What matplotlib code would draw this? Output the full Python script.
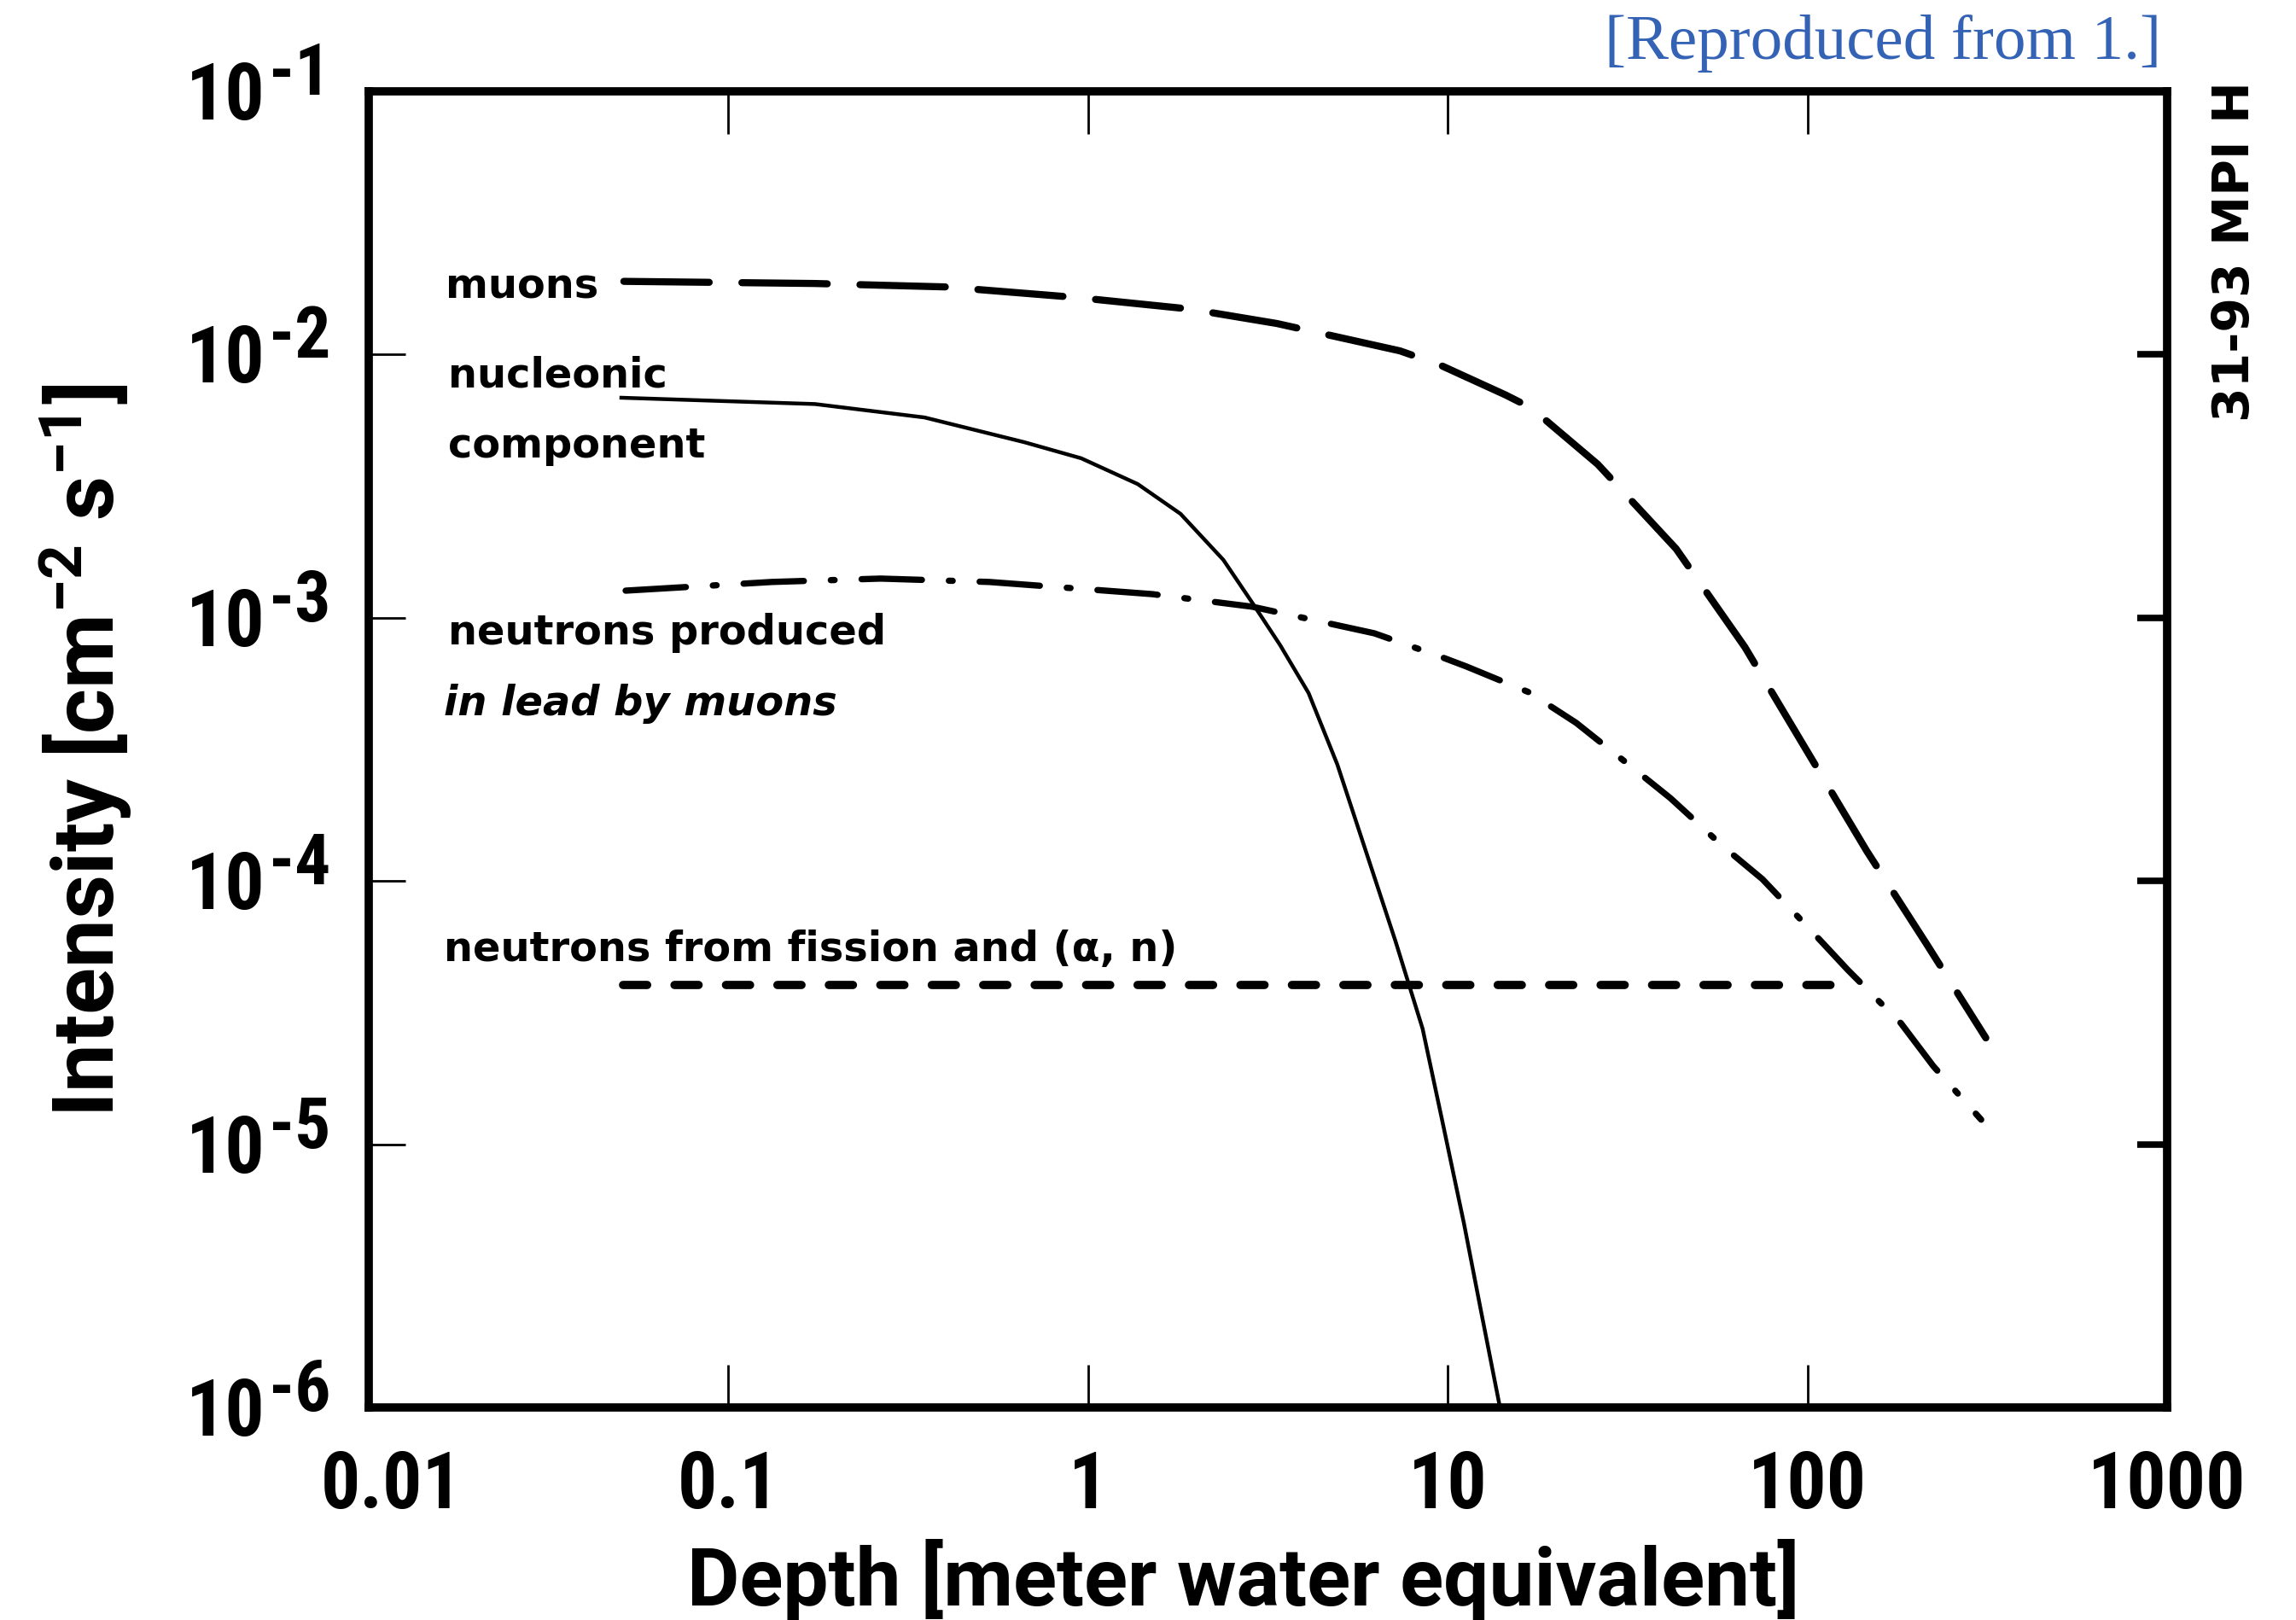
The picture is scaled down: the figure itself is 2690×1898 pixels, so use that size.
import matplotlib
matplotlib.use("Agg")
import matplotlib.pyplot as plt
from matplotlib import font_manager as fm
from matplotlib.ticker import FixedLocator, NullLocator

# ---------------- data ----------------
x_ticks = [0.01, 0.1, 1, 10, 100, 1000]
x_tick_labels = ["0.01", "0.1", "1", "10", "100", "1000"]
y_ticks = [1e-1, 1e-2, 1e-3, 1e-4, 1e-5, 1e-6]
y_tick_exps = ["-1", "-2", "-3", "-4", "-5", "-6"]

muon_depth = [0.0512, 0.174, 0.402, 0.927, 1.919, 3.350, 7.36, 9.46, 14.49,
              17.06, 26.12, 43.15, 66.99, 97.5, 146.2, 214.3, 313.3]
muon_int = [1.897e-2, 1.862e-2, 1.807e-2, 1.648e-2, 1.489e-2, 1.312e-2,
            1.033e-2, 9.16e-3, 7.02e-3, 6.27e-3, 3.83e-3, 1.828e-3,
            7.74e-4, 3.28e-4, 1.300e-4, 5.77e-5, 2.535e-5]

nucl_depth = [0.0504, 0.174, 0.351, 0.665, 0.957, 1.374, 1.807, 2.377, 2.858,
              3.420, 4.102, 4.932, 5.929, 7.161, 8.511, 9.616, 11.09, 12.36,
              13.93]
nucl_int = [6.855e-3, 6.486e-3, 5.768e-3, 4.645e-3, 4.036e-3, 3.221e-3,
            2.483e-3, 1.660e-3, 1.143e-3, 7.87e-4, 5.18e-4, 2.77e-4, 1.29e-4,
            5.89e-5, 2.75e-5, 1.259e-5, 5.01e-6, 2.34e-6, 1.02e-6]

lead_depth = [0.0518, 0.132, 0.265, 0.531, 1.507, 2.858, 6.25, 9.51, 11.27,
              16.83, 22.75, 32.36, 41.59, 58.21, 74.99, 103.5, 129.4, 182.0,
              223.9, 304.1]
lead_int = [1.268e-3, 1.368e-3, 1.409e-3, 1.368e-3, 1.230e-3, 1.102e-3,
            8.73e-4, 7.13e-4, 6.53e-4, 5.21e-4, 3.99e-4, 2.72e-4, 2.065e-4,
            1.355e-4, 1.016e-4, 6.38e-5, 4.60e-5, 2.88e-5, 1.98e-5, 1.24e-5]

fission_depth = [0.051, 132]
fission_int = [4.03e-5, 4.03e-5]

# ---------------- fonts ----------------
names = {f.name for f in fm.fontManager.ttflist}
NARROW_NAME = "DejaVu Sans"
for cand in ["Liberation Sans Narrow", "Roboto Condensed", "Open Sans Condensed", "Roboto"]:
    if cand in names:
        NARROW_NAME = cand
        break
WIDE_NAME = "Roboto" if "Roboto" in names else NARROW_NAME
NARROW = dict(family=NARROW_NAME)
WIDE = dict(family=WIDE_NAME)
plt.rcParams["mathtext.fontset"] = "custom"
plt.rcParams["mathtext.rm"] = WIDE_NAME + ":bold"
plt.rcParams["mathtext.it"] = WIDE_NAME + ":bold"
plt.rcParams["mathtext.bf"] = WIDE_NAME + ":bold"

# ---------------- figure ----------------
W, H = 2690, 1899
fig = plt.figure(figsize=(W / 100, H / 100), dpi=100)
L, R, T, B = 432, 2539, 108, 1650
ax = fig.add_axes([L / W, 1 - B / H, (R - L) / W, (B - T) / H])
ax.set_xscale("log")
ax.set_yscale("log")
ax.set_xlim(0.01, 1000)
ax.set_ylim(1e-6, 1e-1)
ax.xaxis.set_major_locator(FixedLocator(x_ticks))
ax.xaxis.set_minor_locator(NullLocator())
ax.yaxis.set_major_locator(FixedLocator(y_ticks))
ax.yaxis.set_minor_locator(NullLocator())
ax.tick_params(axis="x", which="major", direction="in", length=36, width=2,
               top=True, bottom=True, labelbottom=False, labeltop=False)
ax.tick_params(axis="y", which="major", direction="in", length=31, width=2,
               left=True, right=False, labelleft=False, labelright=False)
for s in ax.spines.values():
    s.set_linewidth(7)
    s.set_capstyle("projecting")

ax2 = ax.twinx()
ax2.set_yscale("log")
ax2.set_ylim(1e-6, 1e-1)
ax2.yaxis.set_major_locator(FixedLocator(y_ticks[1:-1]))
ax2.yaxis.set_minor_locator(NullLocator())
ax2.tick_params(axis="y", which="major", direction="in", length=25, width=5.5,
                right=True, labelright=False)
for s in ax2.spines.values():
    s.set_visible(False)

# ---------------- curves ----------------
ax.plot(muon_depth, muon_int, color="black", lw=6, dashes=(12, 4.6),
        dash_capstyle="round", solid_joinstyle="round")
ax.plot(nucl_depth, nucl_int, color="black", lw=3.2, solid_joinstyle="round")
ax.plot(lead_depth, lead_int, color="black", lw=5.3,
        dashes=(9.6, 4.3, 0.6, 4.3), dash_capstyle="round")
ax.plot(fission_depth, fission_int, color="black", lw=7, dashes=(2.9, 3.3),
        dash_capstyle="round")

# ---------------- tick labels ----------------
for v, e in zip(y_ticks, y_tick_exps):
    ax.annotate("10", xy=(0, v), xycoords=("axes fraction", "data"),
                xytext=(-121, -32), textcoords="offset pixels", ha="right",
                va="baseline", fontsize=66, fontweight="bold", **NARROW)
    ax.annotate(e, xy=(0, v), xycoords=("axes fraction", "data"),
                xytext=(-117, -3), textcoords="offset pixels", ha="left",
                va="baseline", fontsize=60, fontweight="bold", **NARROW)
for v, lab in zip(x_ticks, x_tick_labels):
    dx = 27 if lab == "0.01" else 0
    ax.annotate(lab, xy=(v, 0), xycoords=("data", "axes fraction"),
                xytext=(dx, -117), textcoords="offset pixels", ha="center",
                va="baseline", fontsize=66, fontweight="bold", **NARROW)

# ---------------- axis titles ----------------
ax.text((1457 - L) / (R - L), -(1881 - B) / (B - T),
        "Depth [meter water equivalent]", transform=ax.transAxes,
        ha="center", va="baseline", fontsize=68, fontweight="bold", **WIDE)
fig.text(134 / W, 1 - 879 / H, r"Intensity [cm$^{-2}$ s$^{-1}$]",
         rotation=90, rotation_mode="anchor", ha="center", va="baseline",
         fontsize=73, fontweight="bold", **WIDE)

# ---------------- curve annotations ----------------
ann = dict(transform=ax.transAxes, ha="left", va="baseline", fontsize=34.5,
           fontweight="bold", family="DejaVu Sans")


def fx(px):
    return (px - L) / (R - L)


def fy(py):
    return 1 - (py - T) / (B - T)


ax.text(fx(522), fy(349), "muons", **ann)
ax.text(fx(525), fy(454), "nucleonic", **ann)
ax.text(fx(525), fy(536), "component", **ann)
ax.text(fx(525), fy(755), "neutrons produced", **ann)
ax.text(fx(520), fy(838), "in lead by muons", style="oblique", **ann)
ax.text(fx(520), fy(1126), "neutrons from fission and (\u03b1, n)", **ann)

# ---------------- extra figure texts ----------------
fig.text(2618 / W, 1 - 295 / H, "31-93 MPI H", rotation=90, ha="center",
         va="center", fontsize=42, fontweight="bold", family="DejaVu Sans")
fig.text(2532 / W, 1 - 51 / H, "[Reproduced from 1.]", ha="right",
         va="center", fontsize=54, color="#3463b5", family="Liberation Serif")

fig.savefig("out.png", dpi=100)
